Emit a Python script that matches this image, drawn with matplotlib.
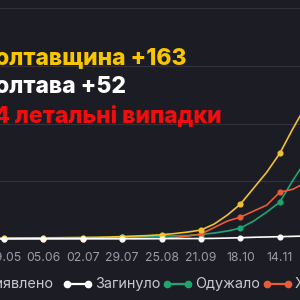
import numpy as np
import pandas as pd
import matplotlib
matplotlib.use("Agg")
import matplotlib.pyplot as plt
from matplotlib.lines import Line2D

# data every 9 days, from 30.04 to 02.12 (2020)
dates = pd.date_range("2020-04-30", periods=25, freq="9D")
detected = [40, 86, 90, 95, 100, 110, 121, 129, 147, 172, 216, 259, 302, 371,
            474, 603, 776, 1293, 2069, 3017, 4396, 5775, 7413, 9568, 11551]
died = [5, 8, 10, 12, 14, 16, 18, 20, 22, 24, 26, 28, 30, 33, 36, 38, 40, 55,
        80, 110, 150, 175, 200, 230, 260]
recovered = [17, 52, 70, 80, 86, 95, 105, 112, 120, 129, 155, 172, 207, 259,
             276, 302, 388, 517, 690, 948, 1552, 2327, 3189, 5086, 6810]
sick = [0, 26, 28, 30, 32, 33, 34, 34, 34, 34, 34, 34, 40, 60, 129, 259, 431,
        991, 1552, 1896, 2414, 2931, 4051, 4310, 4913]

tick_dates = pd.date_range("2020-05-09", periods=8, freq="27D")
yticks = [0, 5000, 10000, 15000, 20000]

series = [("Виявлено", detected, "#f2c12e"),
          ("Загинуло", died, "#ffffff"),
          ("Одужало", recovered, "#1ea672"),
          ("Хворіє", sick, "#e85c36")]

BG = "#1c1c24"

fig = plt.figure(figsize=(3, 3), dpi=100)
fig.patch.set_facecolor(BG)
ax = fig.add_axes([0, 0.2033, 1, 0.77])
ax.set_facecolor(BG)

x0 = pd.Timestamp("2020-05-09")
px_per_day = 39.4 / 27
ax.set_xlim(x0 - pd.Timedelta(days=4 / px_per_day),
            x0 + pd.Timedelta(days=296 / px_per_day))
ax.set_ylim(0, 20000)

mark_idx = [i for i, d in enumerate(dates) if d in set(tick_dates)]
# draw order: green/orange under yellow, white on top of baseline
for name, vals, col in [series[2], series[3], series[0], series[1]]:
    ax.plot(dates, vals, color=col, lw=1.2, marker="o", ms=3.4,
            markevery=mark_idx, clip_on=False, zorder=3)

ax.set_yticks(yticks)
ax.yaxis.grid(True, color="#31313b", lw=0.8)
ax.set_yticklabels([])
ax.tick_params(axis="y", length=0)
ax.set_xticks(tick_dates)
ax.set_xticklabels([d.strftime("%d.%m") for d in tick_dates],
                   color="#9c9ca8", fontsize=8.8, family="Inter")
ax.tick_params(axis="x", length=0, pad=9)
for s in ax.spines.values():
    s.set_visible(False)
ax.set_axisbelow(True)

# headline texts (cropped at the left edge)
fig.text(0.623, 0.787, "Полтавщина +163", color="#f7c600", fontsize=16.5,
         fontweight="heavy", family="Inter", ha="right", va="baseline")
fig.text(0.42, 0.69, "Полтава +52", color="#ffffff", fontsize=16.5,
         fontweight="heavy", family="Inter", ha="right", va="baseline")
fig.text(0.74, 0.593, "14 летальні випадки", color="#f20d0d", fontsize=16.5,
         fontweight="heavy", family="Inter", ha="right", va="baseline")

# legend (first and last items are cropped by the edges)
ly = 1 - 284 / 300
legend_x = [-42, 67, 167, 267]
for xs, (name, vals, col) in zip(legend_x, series):
    fig.add_artist(Line2D([xs / 300, (xs + 21) / 300], [ly, ly], color=col,
                          lw=1.6, marker="o", ms=4.5, transform=fig.transFigure))
    fig.text((xs + 28) / 300, ly, name, color="#c8c8d0", fontsize=10.4,
             family="Inter", ha="left", va="center")

fig.savefig("out.png", dpi=100, facecolor=BG)
